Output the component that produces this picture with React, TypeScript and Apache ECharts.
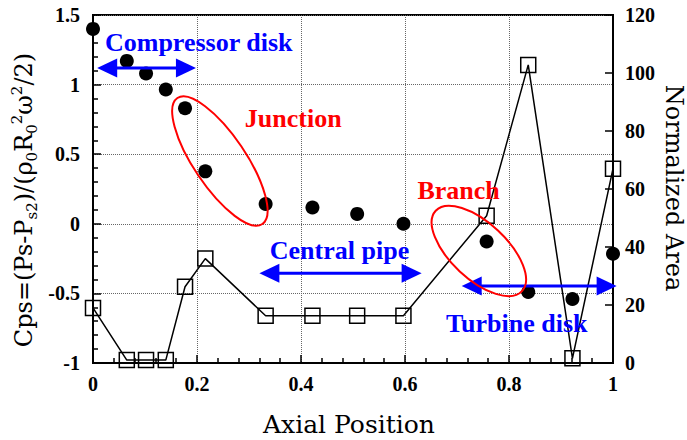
import React, { useEffect, useRef } from 'react';
import * as echarts from 'echarts';

// ---- data ----
const axialPosition = [0, 0.065, 0.102, 0.14, 0.177, 0.216, 0.332, 0.422, 0.508, 0.597, 0.757, 0.837, 0.922, 1.0];
const cpsValues = [1.40, 1.17, 1.08, 0.965, 0.83, 0.377, 0.142, 0.117, 0.071, 0.0, -0.127, -0.49, -0.54, -0.215];
const normalizedArea = [19, 1, 1, 1, 26.3, 36, 16.3, 16.3, 16.3, 16.3, 50.8, 102.8, 1.6, 67];

const xRange = [0, 1, 0.2];
const cpsRange = [-1, 1.5, 0.5];
const areaRange = [0, 120, 20];

// annotations (in axial position / Cps coordinates)
const spanArrows = [
  { from: 0.008, to: 0.198, y: 1.12 },
  { from: 0.32, to: 0.632, y: -0.356 },
  { from: 0.709, to: 1.007, y: -0.447 },
];
const annotationLabels = [
  { text: 'Compressor disk', x: 0.023, y: 1.299, color: '#0000ff' },
  { text: 'Junction', x: 0.292, y: 0.76, color: '#ff0000' },
  { text: 'Central pipe', x: 0.34, y: -0.195, color: '#0000ff' },
  { text: 'Branch', x: 0.624, y: 0.239, color: '#ff0000' },
  { text: 'Turbine disk', x: 0.679, y: -0.713, color: '#0000ff' },
];
const regionEllipses = [
  { x: 0.244, y: 0.451, rx: 76, ry: 26, angle: 56 },
  { x: 0.742, y: -0.195, rx: 59, ry: 28, angle: 43 },
];

const SERIF = '"Liberation Serif", "Times New Roman", serif';
const WIDE_SERIF = '"DejaVu Serif", serif';

export default function App() {
  const ref = useRef<HTMLDivElement>(null);

  useEffect(() => {
    document.body.style.margin = '0';
    if (!ref.current) return;
    const chart = echarts.init(ref.current, undefined, { renderer: 'svg' });

    const axisLabel = {
      color: '#000',
      fontFamily: SERIF,
      fontWeight: 'bold' as const,
      fontSize: 20,
    };
    const splitLine = { show: true, lineStyle: { type: 'dotted' as const, color: '#666', width: 1 } };

    const option: any = {
      animation: false,
      backgroundColor: '#fff',
      grid: {
        left: 93,
        right: 74,
        top: 15,
        bottom: 77,
        show: true,
        borderColor: '#000',
        borderWidth: 2,
        backgroundColor: 'transparent',
      },
      xAxis: {
        type: 'value',
        min: xRange[0],
        max: xRange[1],
        interval: xRange[2],
        axisLine: { show: true, onZero: false, lineStyle: { color: '#000', width: 2 } },
        axisTick: { show: true, inside: true, length: 8, lineStyle: { color: '#000', width: 1.5 } },
        minorTick: { show: true, splitNumber: 5, length: 5, lineStyle: { color: '#000', width: 1.5 } },
        axisLabel: { ...axisLabel, margin: 11 },
        splitLine,
      },
      yAxis: [
        {
          type: 'value',
          position: 'left',
          min: cpsRange[0],
          max: cpsRange[1],
          interval: cpsRange[2],
          axisLine: { show: true, onZero: false, lineStyle: { color: '#000', width: 2 } },
          axisTick: { show: true, inside: true, length: 8, lineStyle: { color: '#000', width: 1.5 } },
          minorTick: { show: true, splitNumber: 5, length: 5, lineStyle: { color: '#000', width: 1.5 } },
          axisLabel: { ...axisLabel, margin: 13 },
          splitLine,
        },
        {
          type: 'value',
          position: 'right',
          min: areaRange[0],
          max: areaRange[1],
          interval: areaRange[2],
          axisLine: { show: true, onZero: false, lineStyle: { color: '#000', width: 2 } },
          axisTick: { show: true, inside: true, length: 8, lineStyle: { color: '#000', width: 1.5 } },
          axisLabel: { ...axisLabel, margin: 12 },
          splitLine: { show: false },
        },
      ],
      series: [
        {
          type: 'line',
          yAxisIndex: 1,
          data: axialPosition.map((x, i) => [x, normalizedArea[i]]),
          symbol: 'rect',
          symbolSize: 15,
          showAllSymbol: true,
          clip: false,
          silent: true,
          z: 2,
          lineStyle: { color: '#000', width: 1.5 },
          itemStyle: { color: 'rgba(0,0,0,0)', borderColor: '#000', borderWidth: 1.5, opacity: 1 },
        },
        {
          type: 'scatter',
          yAxisIndex: 0,
          data: axialPosition.map((x, i) => [x, cpsValues[i]]),
          symbol: 'circle',
          symbolSize: 14,
          clip: false,
          silent: true,
          z: 3,
          itemStyle: { color: '#000', opacity: 1 },
        },
      ],
    };
    chart.setOption(option);

    const px = (x: number, y: number) =>
      chart.convertToPixel({ seriesIndex: 1 }, [x, y]) as number[];

    const graphics: any[] = [];
    const L = 20;
    const H = 9.5;
    spanArrows.forEach((a) => {
      const p1 = px(a.from, a.y);
      const p2 = px(a.to, a.y);
      graphics.push({
        type: 'line',
        z: 20,
        shape: { x1: p1[0] + L - 2, y1: p1[1], x2: p2[0] - L + 2, y2: p2[1] },
        style: { stroke: '#0000ff', lineWidth: 3 },
      });
      graphics.push({
        type: 'polygon',
        z: 20,
        shape: { points: [[p1[0], p1[1]], [p1[0] + L, p1[1] - H], [p1[0] + L, p1[1] + H]] },
        style: { fill: '#0000ff' },
      });
      graphics.push({
        type: 'polygon',
        z: 20,
        shape: { points: [[p2[0], p2[1]], [p2[0] - L, p2[1] - H], [p2[0] - L, p2[1] + H]] },
        style: { fill: '#0000ff' },
      });
    });
    regionEllipses.forEach((e) => {
      const c = px(e.x, e.y);
      graphics.push({
        type: 'ellipse',
        z: 20,
        x: c[0],
        y: c[1],
        rotation: (-e.angle * Math.PI) / 180,
        shape: { cx: 0, cy: 0, rx: e.rx, ry: e.ry },
        style: { fill: 'none', stroke: '#ff0000', lineWidth: 2 },
      });
    });
    annotationLabels.forEach((t) => {
      const p = px(t.x, t.y);
      graphics.push({
        type: 'text',
        z: 21,
        x: p[0],
        y: p[1],
        style: {
          text: t.text,
          fill: t.color,
          fontFamily: SERIF,
          fontWeight: 'bold',
          fontSize: 26,
          align: 'left',
          verticalAlign: 'middle',
          textAlign: 'left',
          textVerticalAlign: 'middle',
        },
      });
    });

    // axis titles
    graphics.push({
      type: 'text',
      z: 21,
      x: 349,
      y: 424,
      style: {
        text: 'Axial Position',
        fill: '#000',
        fontFamily: WIDE_SERIF,
        fontSize: 25,
        align: 'center',
        verticalAlign: 'middle',
        textAlign: 'center',
        textVerticalAlign: 'middle',
      },
    });
    graphics.push({
      type: 'text',
      z: 21,
      x: 674,
      y: 188,
      rotation: -Math.PI / 2,
      style: {
        text: 'Normalized Area',
        fill: '#000',
        fontFamily: WIDE_SERIF,
        fontSize: 24,
        align: 'center',
        verticalAlign: 'middle',
        textAlign: 'center',
        textVerticalAlign: 'middle',
      },
    });
    graphics.push({
      type: 'text',
      z: 21,
      x: 24,
      y: 200,
      rotation: Math.PI / 2,
      style: {
        text: '{n|Cps=(Ps-P}{sb|s2}{n|)/(ρ}{sb|0}{n|R}{sb|0}{sp|2}{n|ω}{sp|2}{n|/2)}',
        fill: '#000',
        align: 'center',
        verticalAlign: 'middle',
        textAlign: 'center',
        textVerticalAlign: 'middle',
        rich: {
          n: { fontFamily: WIDE_SERIF, fontSize: 24, lineHeight: 30, fill: '#000', color: '#000' },
          sb: { fontFamily: WIDE_SERIF, fontSize: 15, lineHeight: 16, verticalAlign: 'bottom', fill: '#000', color: '#000' },
          sp: { fontFamily: WIDE_SERIF, fontSize: 15, lineHeight: 16, verticalAlign: 'top', fill: '#000', color: '#000' },
        },
      },
    });

    chart.setOption({ graphic: { elements: graphics } });

    return () => chart.dispose();
  }, []);

  return (
    <div
      ref={ref}
      style={{ position: 'absolute', left: 0, top: 0, width: 687, height: 440, background: '#fff' }}
    />
  );
}
